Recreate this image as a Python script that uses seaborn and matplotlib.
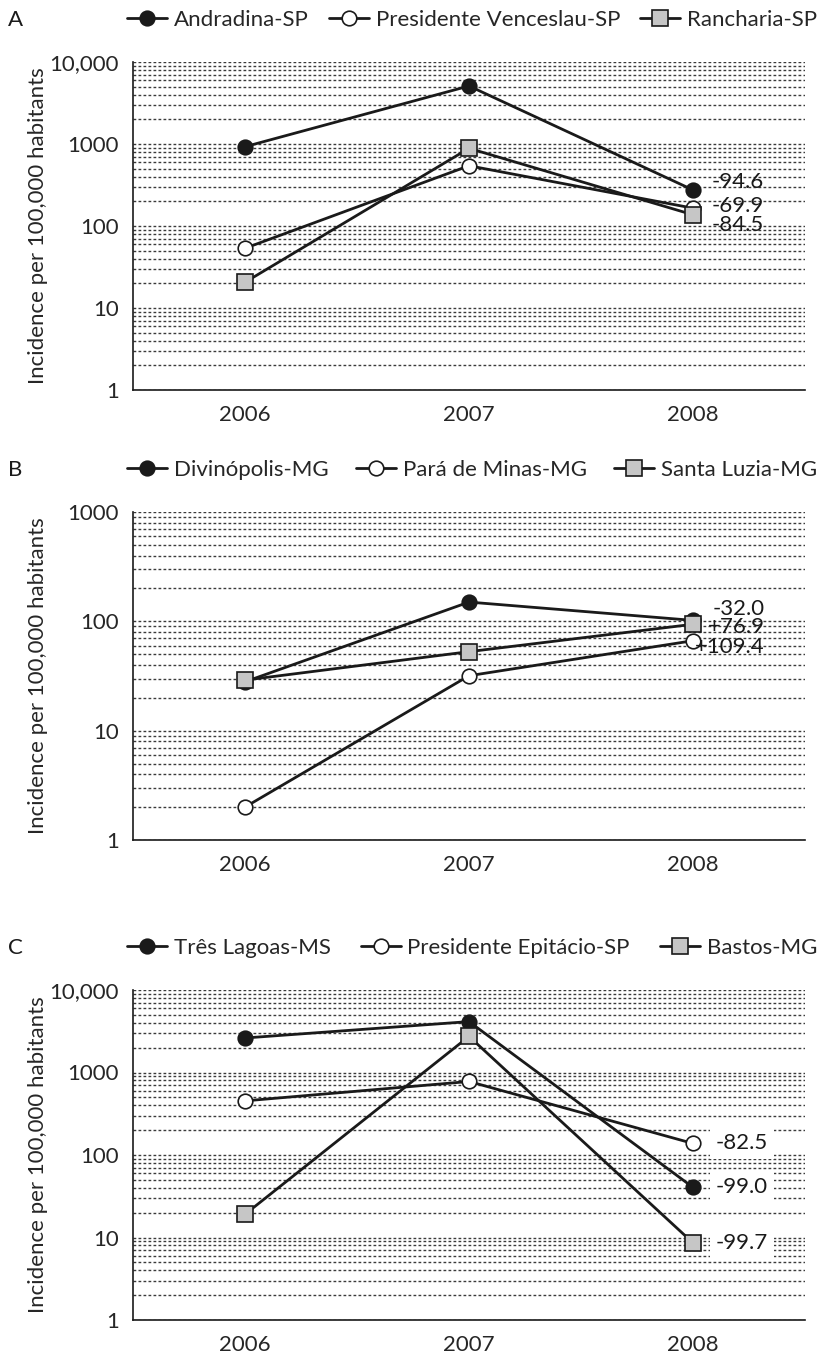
import numpy as np
import pandas as pd
import matplotlib
matplotlib.use("Agg")
import matplotlib.pyplot as plt
import seaborn as sns
from matplotlib.ticker import FixedLocator, NullFormatter

# Datos
years = ["2006", "2007", "2008"]

names_a = ["Andradina-SP", "Presidente Venceslau-SP", "Rancharia-SP"]
andradina = [927, 5100, 275]
venceslau = [53.5, 543, 165]
rancharia = [20.6, 886, 137]
changes_a = ["-94.6", "-69.9", "-84.5"]

names_b = ["Divinópolis-MG", "Pará de Minas-MG", "Santa Luzia-MG"]
divinopolis = [28, 150, 102]
para_minas = [2.0, 31.8, 66.5]
santa_luzia = [29, 52.8, 94]
changes_b = ["-32.0", "+109.4", "+76.9"]

names_c = ["Três Lagoas-MS", "Presidente Epitácio-SP", "Bastos-MG"]
tres_lagoas = [2620, 4140, 40.5]
epitacio = [453, 778, 138]
bastos = [19.1, 2740, 8.6]
changes_c = ["-99.0", "-82.5", "-99.7"]

sns.set_theme(style="white")
plt.rcParams["font.family"] = ["Lato", "DejaVu Sans"]
FS = 16
INK = "#1a1a1a"

# estilos de marcador: circulo negro, circulo blanco, cuadrado gris
styles = [
    dict(marker="o", markerfacecolor=INK, markersize=10.5),
    dict(marker="o", markerfacecolor="white", markersize=10.5),
    dict(marker="s", markerfacecolor="#c6c6c6", markersize=11),
]

fig = plt.figure(figsize=(8.2, 13.57), dpi=100)
W, H = 820, 1357


def panel(top, bottom, letter, names, series, changes, ymax, offsets, ha="left", box=False):
    ax = fig.add_axes([133 / W, 1 - bottom / H, 672 / W, (bottom - top) / H])
    x = np.arange(len(years)) + 0.5
    for name, vals, st in zip(names, series, styles):
        df = pd.DataFrame({"x": x, "y": vals})
        sns.lineplot(data=df, x="x", y="y", ax=ax, color=INK, lw=2,
                     markeredgecolor=INK, markeredgewidth=1.2, label=name, **st)
    ax.set_yscale("log")
    ax.set_ylim(1, ymax)
    ax.set_xlim(0, 3)

    # ticks del eje y
    decades = [10 ** k for k in range(int(np.log10(ymax)) + 1)]
    ax.yaxis.set_major_locator(FixedLocator(decades))
    ax.set_yticklabels(["{:,}".format(d) if d >= 10000 else str(d) for d in decades], fontsize=FS)
    minors = [m * d for d in decades[:-1] for m in range(2, 10)]
    ax.yaxis.set_minor_locator(FixedLocator(minors))
    ax.yaxis.set_minor_formatter(NullFormatter())
    ax.grid(which="both", axis="y", color="#3a3a3a", lw=1, linestyle=(0, (2, 1.6)))
    ax.grid(axis="x", visible=False)

    # ticks del eje x: marcas en los bordes, etiquetas en el centro
    ax.set_xticks([0, 1, 2, 3])
    ax.set_xticklabels([])
    ax.set_xticks(x, minor=True)
    ax.set_xticklabels(years, minor=True, fontsize=FS)
    ax.tick_params(axis="x", which="major", direction="out", length=8, width=1.2, color=INK)
    ax.tick_params(axis="x", which="minor", length=0, pad=11)
    ax.tick_params(axis="y", which="major", direction="out", length=6, width=1.2, color=INK, pad=4)
    ax.tick_params(axis="y", which="minor", length=0)

    for s in ["top", "right"]:
        ax.spines[s].set_visible(False)
    for s in ["left", "bottom"]:
        ax.spines[s].set_color(INK)
        ax.spines[s].set_linewidth(1.2)

    ax.set_xlabel("")
    ax.set_ylabel("Incidence per 100,000 habitants", fontsize=FS)
    ax.yaxis.set_label_coords(-0.127, 0.5)

    # etiquetas de cambio porcentual en 2008
    for vals, txt, (dx, dy) in zip(series, changes, offsets):
        kw = {}
        if box:
            kw["bbox"] = dict(facecolor="white", edgecolor="none", pad=4)
        ax.annotate(txt, (x[-1], vals[-1]), xytext=(dx, dy), textcoords="offset pixels",
                    ha=ha, va="center", fontsize=FS, color=INK, **kw)

    # leyenda extendida de 127 px a 817 px
    h = bottom - top
    ax.legend(loc="center left", bbox_to_anchor=(-6 / 672, 1 + 30 / h, 690 / 672, 24 / h),
              mode="expand", ncol=3, frameon=False, fontsize=FS, handlelength=1.8,
              handletextpad=0.3, columnspacing=0.8, borderaxespad=0, borderpad=0)
    fig.text(8 / W, 1 - (top - 42) / H, letter, fontsize=FS, va="center", ha="left", color=INK)
    return ax


panel(62, 390, "A", names_a, [andradina, venceslau, rancharia], changes_a, 10000,
      [(19, 8), (19, 2), (19, -10)])
panel(512, 840, "B", names_b, [divinopolis, para_minas, santa_luzia], changes_b, 1000,
      [(72, 11), (72, -6), (72, -3)], ha="right")
panel(990, 1320, "C", names_c, [tres_lagoas, epitacio, bastos], changes_c, 10000,
      [(23, 0), (23, 0), (23, 0)], box=True)

fig.savefig("out.png", dpi=100)
